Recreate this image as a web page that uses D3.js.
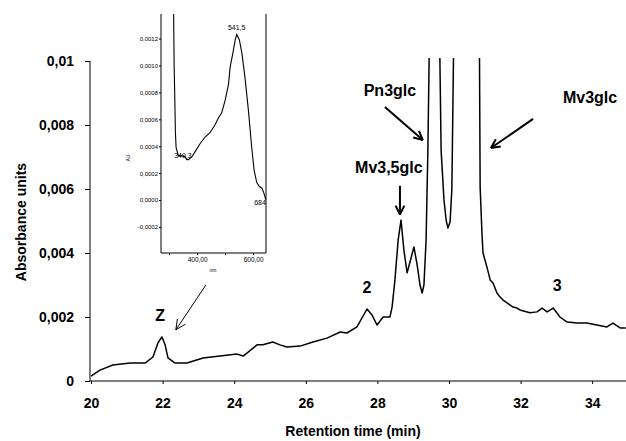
<!DOCTYPE html>
<html>
<head>
<meta charset="utf-8">
<script src="https://cdn.jsdelivr.net/npm/d3@7"></script>
<style>
  body { margin: 0; background: #fff; }
  text { font-family: "Liberation Sans", Arial, sans-serif; }
</style>
</head>
<body>
<script>
// chromatogram (off-scale peaks given a rough top)
let retentionTime = [20.0, 20.25, 20.61, 21.09, 21.51, 21.73, 21.87, 21.98, 22.07, 22.15, 22.35, 22.68, 23.13, 23.6, 24.08, 24.25,
  24.64, 24.8, 25.08, 25.28, 25.47, 25.84, 26.2, 26.59, 26.96, 27.15, 27.43, 27.71, 27.85, 27.99, 28.16, 28.35, 28.41,
  28.49, 28.58, 28.66, 28.74, 28.83, 28.91, 29.02, 29.11, 29.19, 29.25, 29.3, 29.36, 29.41, 29.45, 29.6, 29.74, 29.78,
  29.86, 29.92, 29.97, 30.03, 30.08, 30.13, 30.5, 30.85, 30.87, 30.92, 30.95, 31.06, 31.15, 31.23, 31.34, 31.42, 31.51,
  31.62, 31.7, 31.79, 31.9, 31.98, 32.26, 32.46, 32.6, 32.74, 32.91, 33.1, 33.3, 33.58, 33.85, 34.13, 34.41, 34.58, 34.78, 34.94];
let absorbance = [0.00015, 0.00034, 0.0005, 0.00056, 0.00056, 0.00075, 0.00119, 0.00138, 0.00113, 0.00072, 0.00056, 0.00056, 0.00072, 0.00078, 0.00084, 0.00078,
  0.00113, 0.00113, 0.00122, 0.00113, 0.00106, 0.00109, 0.00122, 0.00134, 0.00153, 0.0015, 0.00169, 0.00225, 0.00206, 0.00175, 0.002, 0.002, 0.00231,
  0.00316, 0.00441, 0.00503, 0.00409, 0.00338, 0.00372, 0.00419, 0.00363, 0.003, 0.00275, 0.003, 0.0044, 0.0072, 0.0105, 0.03, 0.0105, 0.0072,
  0.00566, 0.00503, 0.00478, 0.00497, 0.006, 0.0105, 0.08, 0.0105, 0.00606, 0.00463, 0.004, 0.00356, 0.00316, 0.00306, 0.00275, 0.00263, 0.00253,
  0.00244, 0.00238, 0.00231, 0.00228, 0.00222, 0.00213, 0.00216, 0.00228, 0.00216, 0.00228, 0.002, 0.00184, 0.00181, 0.00181, 0.00175, 0.00169, 0.00181, 0.00166, 0.00166];

let xTicks = [20, 22, 24, 26, 28, 30, 32, 34];
let yTicks = [0, 0.002, 0.004, 0.006, 0.008, 0.01];
let yTickLabels = ['0', '0,002', '0,004', '0,006', '0,008', '0,01'];

// inset UV-vis spectrum
let wavelength = [315, 318, 320.4, 322.5, 325, 333, 345, 357, 363, 369, 381, 393, 411, 429, 446, 464, 476, 488, 500, 512,
  518, 527.5, 536, 541.5, 551, 560, 571, 583, 595, 603.6, 613, 622.5, 631, 637, 646];
let spectrumAU = [0.0016, 0.00099, 0.00074, 0.0005, 0.00039, 0.00033, 0.00033, 0.00032, 0.0003, 0.0003, 0.00032, 0.00036, 0.00042, 0.00047, 0.0005, 0.00056, 0.00061, 0.00065, 0.00074, 0.00086,
  0.00099, 0.00109, 0.00119, 0.00123, 0.00119, 0.00109, 0.00091, 0.00067, 0.00039, 0.00022, 0.00013, 0.0001, 0.00009, 0.00006, 0.0];
let insetYTicks = [-0.0002, 0, 0.0002, 0.0004, 0.0006, 0.0008, 0.001, 0.0012];
let insetYLabels = ['-0,0002', '0,0000', '0,0002', '0,0004', '0,0006', '0,0008', '0,0010', '0,0012'];
let insetXTicks = [400, 600];
let insetXLabels = ['400,00', '600,00'];
let spectrumMarks = [{nm: 349.3, au: 0.00033, label: '349,3'}, {nm: 541.5, au: 0.00123, label: '541,5'}, {nm: 646, au: 0.0001, label: '684'}];

let peakLabels = [
  {t: 21.93, v: 0.00206, label: 'Z'},
  {t: 27.71, v: 0.00294, label: '2'},
  {t: 33.02, v: 0.0030, label: '3'},
  {t: 28.32, v: 0.00669, label: 'Mv3,5glc'},
  {t: 28.35, v: 0.0091, label: 'Pn3glc'},
  {t: 33.94, v: 0.00888, label: 'Mv3glc'}
];
let arrows = [
  {t0: 23.21, v0: 0.0030, t1: 22.37, v1: 0.0016, w: 1, head: 11},
  {t0: 28.63, v0: 0.0061, t1: 28.63, v1: 0.0052, w: 2, head: 10},
  {t0: 28.21, v0: 0.00856, t1: 29.27, v1: 0.00753, w: 2, head: 10},
  {t0: 32.35, v0: 0.00819, t1: 31.17, v1: 0.00728, w: 2, head: 10}
];

let width = 626, height = 441;
let svg = d3.select('body').append('svg')
  .attr('width', width)
  .attr('height', height);

let x = d3.scaleLinear().domain([20, 35]).range([91, 628]);
let y = d3.scaleLinear().domain([0, 0.01]).range([381, 61]);

// axes
let yAxis = svg.append('g')
  .attr('transform', 'translate(90,0)')
  .call(d3.axisLeft(y).tickValues(yTicks).tickSize(5).tickFormat((d, i) => yTickLabels[i]));
yAxis.select('.domain').attr('d', 'M0,61V381');
yAxis.selectAll('text')
  .attr('x', -16)
  .style('font-size', '14px')
  .style('font-weight', 'bold')
  .style('font-family', '"Liberation Sans", Arial, sans-serif');

let xAxis = svg.append('g')
  .attr('transform', 'translate(0,381)')
  .call(d3.axisBottom(x).tickValues(xTicks).tickSize(3).tickFormat(d3.format('d')));
xAxis.select('.domain').attr('d', 'M90,0H626');
xAxis.selectAll('text')
  .attr('y', 17)
  .style('font-size', '14px')
  .style('font-weight', 'bold')
  .style('font-family', '"Liberation Sans", Arial, sans-serif');

svg.append('text')
  .attr('x', 353).attr('y', 436)
  .attr('text-anchor', 'middle')
  .style('font-size', '14px').style('font-weight', 'bold')
  .text('Retention time (min)');

svg.append('text')
  .attr('transform', 'translate(26,222) rotate(-90)')
  .attr('text-anchor', 'middle')
  .style('font-size', '14px').style('font-weight', 'bold')
  .text('Absorbance units');

// trace
svg.append('clipPath').attr('id', 'plotclip')
  .append('rect').attr('x', 90).attr('y', 58).attr('width', 540).attr('height', 330);

let line = d3.line()
  .x((d, i) => x(retentionTime[i]))
  .y(d => y(d));

svg.append('path')
  .datum(absorbance)
  .attr('clip-path', 'url(#plotclip)')
  .attr('fill', 'none')
  .attr('stroke', '#000')
  .attr('stroke-width', 1.5)
  .attr('stroke-linejoin', 'round')
  .attr('d', line);

// peak names
svg.selectAll('.peak')
  .data(peakLabels)
  .enter().append('text')
    .attr('class', 'peak')
    .attr('x', d => x(d.t))
    .attr('y', d => y(d.v))
    .attr('dy', '0.36em')
    .attr('text-anchor', 'middle')
    .style('font-size', '16px')
    .style('font-weight', 'bold')
    .text(d => d.label);

// arrows with open heads
arrows.forEach(a => {
  let x0 = x(a.t0), y0 = y(a.v0), x1 = x(a.t1), y1 = y(a.v1);
  let ang = Math.atan2(y1 - y0, x1 - x0);
  let g = svg.append('g').attr('stroke', '#000').attr('stroke-width', a.w).attr('fill', 'none');
  g.append('line').attr('x1', x0).attr('y1', y0).attr('x2', x1).attr('y2', y1);
  [-0.45, 0.45].forEach(s => {
    g.append('line')
      .attr('x1', x1).attr('y1', y1)
      .attr('x2', x1 - a.head * Math.cos(ang + s))
      .attr('y2', y1 - a.head * Math.sin(ang + s));
  });
});

// inset
let ix = d3.scaleLinear().domain([271, 646]).range([161, 266]);
let iy = d3.scaleLinear().domain([-0.000394, 0.001383]).range([253, 14]);

let inset = svg.append('g');
inset.append('path')
  .attr('d', 'M161,14V253H266V14')
  .attr('fill', 'none')
  .attr('stroke', '#000')
  .attr('stroke-width', 1);

let iyAxis = inset.append('g')
  .attr('transform', 'translate(161,0)')
  .call(d3.axisLeft(iy).tickValues(insetYTicks).tickSize(2).tickFormat((d, i) => insetYLabels[i]));
iyAxis.select('.domain').remove();
iyAxis.selectAll('text').attr('x', -3).style('font-size', '6px');

let ixAxis = inset.append('g')
  .attr('transform', 'translate(0,253)')
  .call(d3.axisBottom(ix).tickValues([300, 400, 500, 600]).tickSize(2)
    .tickFormat(d => { let k = insetXTicks.indexOf(d); return k < 0 ? '' : insetXLabels[k]; }));
ixAxis.select('.domain').remove();
ixAxis.selectAll('text').attr('y', 4).style('font-size', '6.5px');

inset.append('text')
  .attr('x', 213).attr('y', 272)
  .attr('text-anchor', 'middle')
  .style('font-size', '5px')
  .text('nm');
inset.append('text')
  .attr('transform', 'translate(130,158) rotate(-90)')
  .attr('text-anchor', 'middle')
  .style('font-size', '5px')
  .text('AU');

inset.append('clipPath').attr('id', 'insetclip')
  .append('rect').attr('x', 161).attr('y', 14).attr('width', 105).attr('height', 239);

inset.append('path')
  .datum(spectrumAU)
  .attr('clip-path', 'url(#insetclip)')
  .attr('fill', 'none')
  .attr('stroke', '#000')
  .attr('stroke-width', 1.1)
  .attr('d', d3.line().x((d, i) => ix(wavelength[i])).y(d => iy(d)));

inset.selectAll('.mark')
  .data(spectrumMarks)
  .enter().append('text')
    .attr('class', 'mark')
    .attr('x', d => ix(d.nm) + (d.label === '684' ? -6 : 0))
    .attr('y', d => iy(d.au) - (d.label === '541,5' ? 5 : d.label === '684' ? -18 : -2))
    .attr('text-anchor', 'middle')
    .style('font-size', '7px')
    .style('fill', '#000')
    .text(d => d.label);
</script>
</body>
</html>
